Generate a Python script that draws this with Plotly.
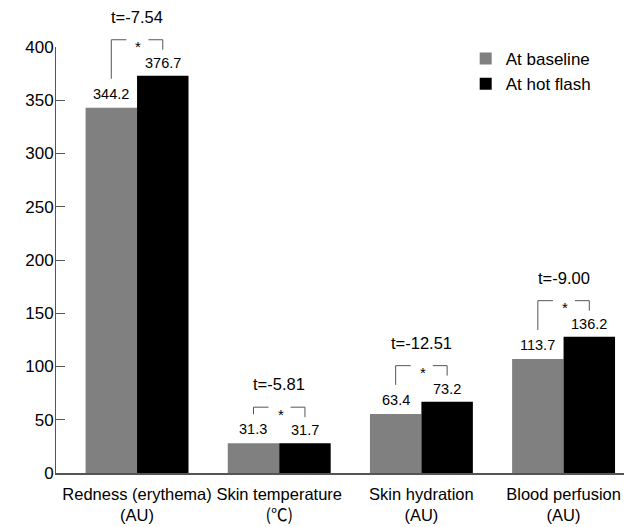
import plotly.graph_objects as go

categories = ["Redness (erythema)<br>(AU)",
              "Skin temperature<br><span style=\"font-family:Noto Sans CJK KR\">(℃)</span>",
              "Skin hydration<br>(AU)", "Blood perfusion<br>(AU)"]
baseline_vals = [343, 28, 55.5, 107]
hotflash_vals = [373, 28, 67, 128]
baseline_labels = ["344.2", "31.3", "63.4", "113.7"]
hotflash_labels = ["376.7", "31.7", "73.2", "136.2"]
t_labels = ["t=-7.54", "t=-5.81", "t=-12.51", "t=-9.00"]
y_ticks = [0, 50, 100, 150, 200, 250, 300, 350, 400]

FONT = "Liberation Sans, Arial, sans-serif"
x_pos = list(range(len(categories)))
XR = [-0.57, 3.425]
YR = [0, 400]
bargap = 0.276
half = (1 - bargap) / 4  # center offset of each bar in the group


def px(x):  # data x -> paper x
    return (x - XR[0]) / (XR[1] - XR[0])


def py(y):  # data y -> paper y
    return (y - YR[0]) / (YR[1] - YR[0])


fig = go.Figure()
fig.add_trace(go.Bar(x=x_pos, y=baseline_vals, name="At baseline",
                     marker=dict(color="#808080", line=dict(width=0))))
fig.add_trace(go.Bar(x=x_pos, y=hotflash_vals, name="At hot flash",
                     marker=dict(color="#000000", line=dict(width=0))))

shapes = []
annotations = []
lc = dict(color="#555555", width=1)
for i in x_pos:
    b, h = baseline_vals[i], hotflash_vals[i]
    top = max(b, h)
    xl, xr = i - half, i + half
    br = 36  # bracket height (px) above the taller bar
    common = dict(type="line", xref="paper", yref="paper", ysizemode="pixel", line=lc)
    # left leg
    shapes.append(dict(common, yanchor=py(b), x0=px(xl), x1=px(xl),
                       y0=29, y1=br + (top - b) * 1.064))
    # left horizontal
    shapes.append(dict(common, yanchor=py(top), x0=px(xl), x1=px(i - 0.075), y0=br, y1=br))
    # right horizontal
    shapes.append(dict(common, yanchor=py(top), x0=px(i + 0.08), x1=px(xr), y0=br, y1=br))
    # right leg
    shapes.append(dict(common, yanchor=py(h), x0=px(xr), x1=px(xr),
                       y0=26, y1=br + (top - h) * 1.064))
    annotations.append(dict(x=i + 0.01, y=top, text="*", showarrow=False, yanchor="middle",
                            yshift=29, font=dict(size=15, color="black", family=FONT)))
    annotations.append(dict(x=i, y=top, text=t_labels[i], showarrow=False, yanchor="middle",
                            yshift=59, font=dict(size=16.5, color="black", family=FONT)))
    annotations.append(dict(x=xl, y=b, text=baseline_labels[i], showarrow=False, yanchor="middle",
                            yshift=14, font=dict(size=14.5, color="black", family=FONT)))
    annotations.append(dict(x=xr, y=h, text=hotflash_labels[i], showarrow=False, yanchor="middle",
                            yshift=13, font=dict(size=14.5, color="black", family=FONT)))

fig.update_layout(
    width=632, height=527,
    margin=dict(l=56, r=8, t=47, b=54),
    paper_bgcolor="white", plot_bgcolor="white",
    barmode="group", bargap=bargap, bargroupgap=0,
    font=dict(family=FONT, color="black"),
    showlegend=True,
    legend=dict(x=0.7213, y=1.014, xanchor="left", yanchor="top",
                font=dict(size=17, color="black", family=FONT),
                bgcolor="rgba(0,0,0,0)", tracegroupgap=0),
    xaxis=dict(range=XR, tickmode="array", tickvals=x_pos, ticktext=categories,
               tickangle=0, automargin=False, ticklabelstandoff=5,
               showline=True, linecolor="#555555", linewidth=1.5, ticks="", showgrid=False,
               zeroline=False, tickfont=dict(size=16.5, color="black", family=FONT)),
    yaxis=dict(range=YR, tickmode="array", tickvals=y_ticks, showline=True, automargin=False,
               linecolor="#555555", linewidth=1, ticks="inside", ticklen=9, tickcolor="#555555",
               showgrid=False, zeroline=False, ticklabelstandoff=-2,
               tickfont=dict(size=17, color="black", family=FONT)),
    shapes=shapes, annotations=annotations,
)

fig.write_html("out.html", config={"displayModeBar": False},
               post_script="document.body.style.margin='0px';")
